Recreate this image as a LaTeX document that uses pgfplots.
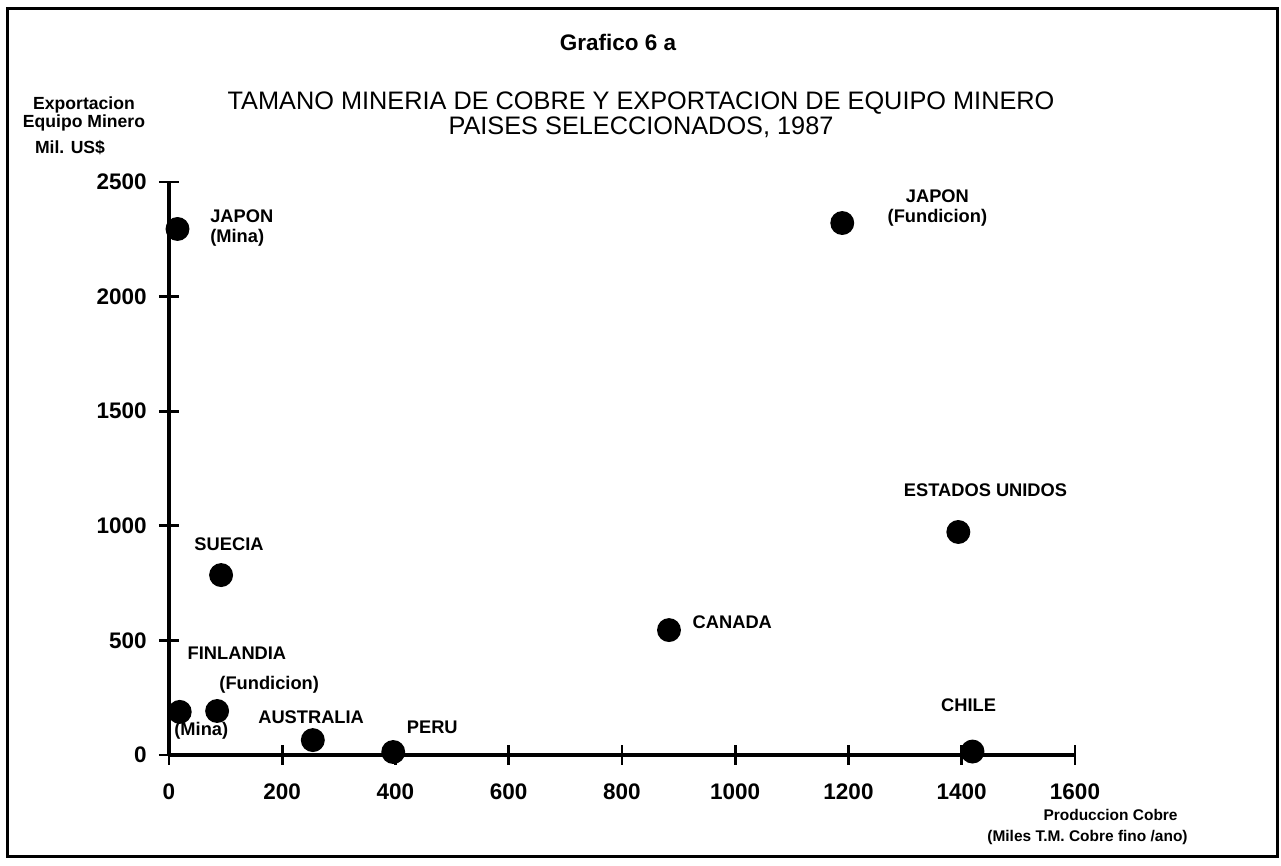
\documentclass[border=0pt]{standalone}
\usepackage{fontspec}
\setmainfont{Liberation Sans}
\usepackage{pgfplots}
\pgfplotsset{compat=1.18}
\begin{document}
\begin{tikzpicture}
\useasboundingbox (0,0) rectangle (128.1mm,86.6mm);
\draw[line width=0.3mm] (0.7mm,0.9mm) rectangle (127.7mm,85.7mm);
\node[font=\fontsize{6.4}{7}\selectfont\bfseries] at (61.8mm,82.4mm) {Grafico 6 a};
\node[font=\fontsize{7.2}{7.1}\selectfont, align=center] at (64.1mm,75.15mm) {TAMANO MINERIA DE COBRE Y EXPORTACION DE EQUIPO MINERO\\PAISES SELECCIONADOS, 1987};
\node[font=\fontsize{5}{5.1}\selectfont\bfseries, align=center] at (8.4mm,75.2mm) {Exportacion\\Equipo Minero};
\node[font=\fontsize{5}{5.1}\selectfont\bfseries] at (7.0mm,71.8mm) {Mil. US\$};
\node[font=\fontsize{4.4}{4.8}\selectfont\bfseries, anchor=east] at (119.0mm,5.1mm) {Produccion Cobre};
\node[font=\fontsize{4.4}{4.8}\selectfont\bfseries, anchor=east] at (120.0mm,2.8mm) {(Miles T.M. Cobre fino /ano)};
\begin{axis}[
  at={(16.9mm,11.1mm)}, anchor=south west,
  scale only axis, width=90.6mm, height=57.3mm,
  xmin=0, xmax=1600, ymin=0, ymax=2500,
  axis lines=left, axis line style={line width=0.9pt, -},
  xtick={0,200,...,1600}, ytick={0,500,...,2500},
  tick align=center, major tick length=2mm, tick style={line width=0.8pt, black},
  ticklabel style={font=\fontsize{6.4}{7}\selectfont\bfseries},
  /pgf/number format/assume math mode=true, /pgf/number format/1000 sep={},
  yticklabel style={xshift=0mm}, xticklabel style={yshift=-0.6mm},
  clip=false,
]
\addplot[only marks, mark=*, mark size=3.2pt, black] coordinates {
  (15,2295) (1189,2321) (92,785) (883,545) (1394,973)
  (19,188) (85,192) (254,65) (396,13) (1419,15)
};
\begin{scope}[every node/.style={font=\fontsize{5.2}{5.7}\selectfont\bfseries}]
\node[align=left, anchor=west] at (axis cs:51,2299) {JAPON\\(Mina)};
\node[align=center] at (axis cs:1357,2387) {JAPON\\(Fundicion)};
\node at (axis cs:1442,1156) {ESTADOS UNIDOS};
\node at (axis cs:106,921) {SUECIA};
\node[anchor=west] at (axis cs:903,580) {CANADA};
\node at (axis cs:120,445) {FINLANDIA};
\node at (axis cs:177,305) {(Fundicion)};
\node at (axis cs:57,105) {(Mina)};
\node at (axis cs:251,166) {AUSTRALIA};
\node at (axis cs:465,122) {PERU};
\node at (axis cs:1412,218) {CHILE};
\end{scope}
\end{axis}
\end{tikzpicture}
\end{document}
